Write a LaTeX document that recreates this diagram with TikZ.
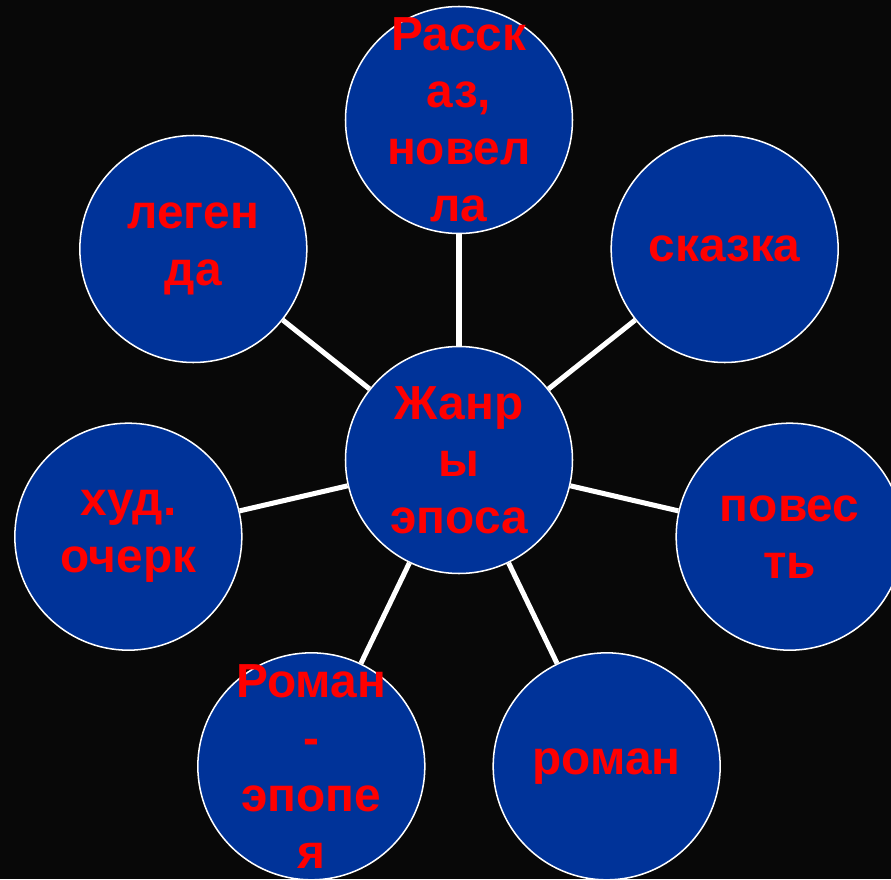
\documentclass[tikz,border=0pt]{standalone}
\usepackage{fontspec}
\setmainfont{Liberation Sans}
\usepackage{xcolor}
\usepackage{tikz}
\usetikzlibrary{positioning}
\definecolor{darkblue}{RGB}{0, 51, 153}
\definecolor{bgblack}{RGB}{8, 8, 8}

\begin{document}
\begin{tikzpicture}[
  genretext/.style={align=center, text=red, inner sep=0pt, font=\fontsize{40.8}{48.7}\selectfont\bfseries},
  genre/.style={circle, draw=white, line width=1.3pt, fill=darkblue, minimum size=6.81cm, inner sep=0pt, label={[genretext]center:{#1}}},
  spoke/.style={white, line width=4.3pt}
]

% Background
\fill[bgblack] (-13.77, 13.8) rectangle (12.96, -12.57);
\useasboundingbox (-13.77, 13.8) rectangle (12.96, -12.57);

% Center
\node[genre={Жанр\\ы\\эпоса}] (epos) at (0, 0) {};

% Outer genres
\node[genre={Расск\\аз,\\новел\\ла}] (novella) at (0, 10.2) {};
\node[genre={сказка}] (skazka) at (7.97, 6.33) {};
\node[genre={повес\\ть}] (povest) at (9.92, -2.3) {};
\node[genre={роман}] (roman) at (4.43, -9.19) {};
\node[genre={Роман\\-\\эпопе\\я}] (epopeya) at (-4.43, -9.19) {};
\node[genre={худ.\\очерк}] (ocherk) at (-9.92, -2.3) {};
\node[genre={леген\\да}] (legenda) at (-7.97, 6.33) {};

% Spokes
\draw[spoke] (epos) -- (novella);
\draw[spoke] (epos) -- (skazka);
\draw[spoke] (epos) -- (povest);
\draw[spoke] (epos) -- (roman);
\draw[spoke] (epos) -- (epopeya);
\draw[spoke] (epos) -- (ocherk);
\draw[spoke] (epos) -- (legenda);

\end{tikzpicture}
\end{document}
